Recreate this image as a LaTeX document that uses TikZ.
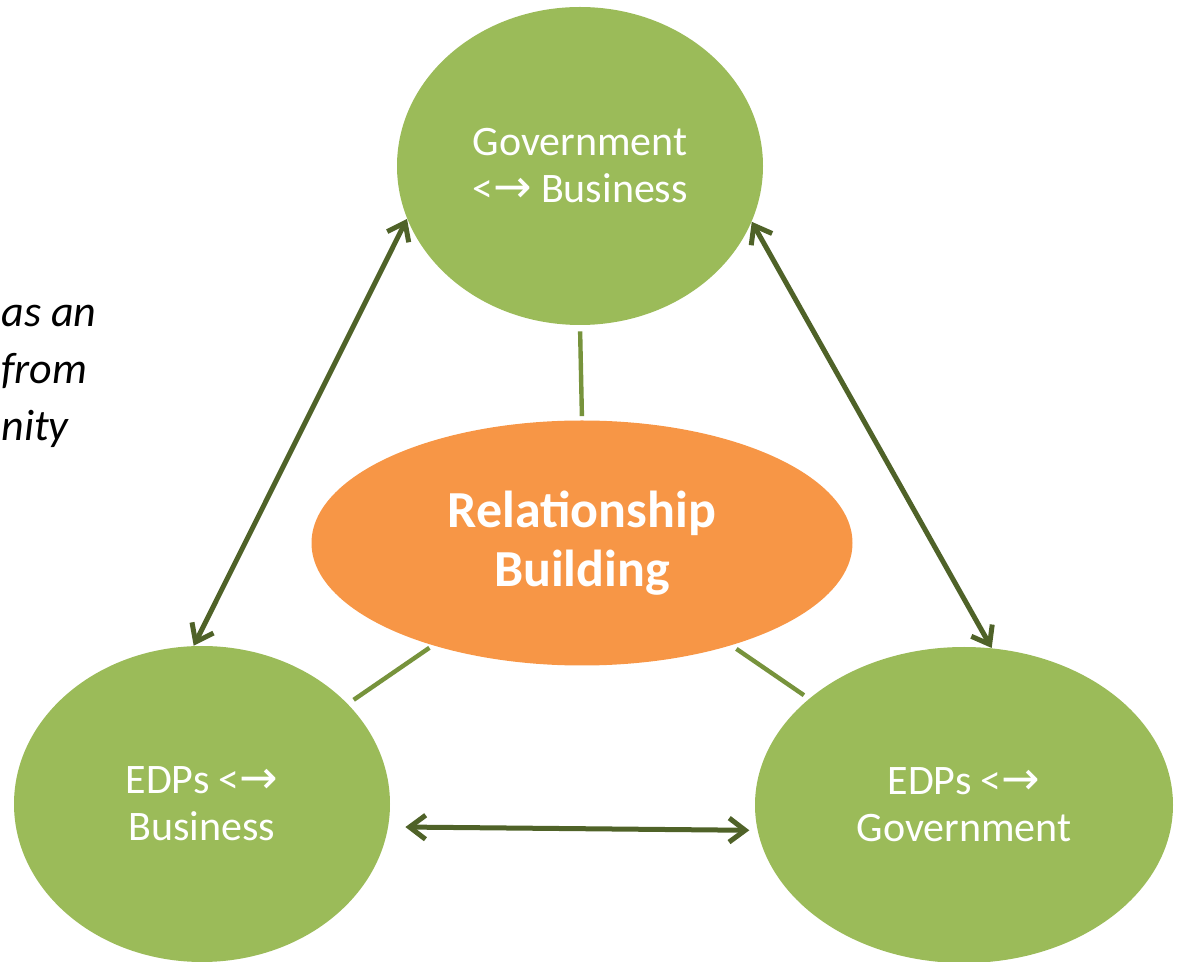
\documentclass[tikz,border=0pt]{standalone}
\usepackage{fontspec}
\setmainfont{Carlito}
\newfontfamily\arwfont{DejaVu Sans}
\usetikzlibrary{shapes.geometric,arrows.meta}
\definecolor{grx}{HTML}{9BBB59}
\definecolor{orx}{HTML}{F79646}
\definecolor{dgx}{HTML}{4F6228}
\definecolor{lgx}{HTML}{77933C}
\newcommand{\lrarw}{<{\arwfont\fontsize{23}{23.5}\selectfont →}}
\tikzset{
    bubble/.style={ellipse,fill=grx,text=white,inner sep=0pt,align=center,
        font=\fontsize{21}{23.5}\selectfont},
    core/.style={ellipse,fill=orx,text=white,inner sep=0pt,align=center,
        font=\bfseries\fontsize{26}{29.5}\selectfont},
    dbl/.style={dgx,line width=2.5pt,line cap=round,
        {Straight Barb[length=8pt,width=12pt]}-{Straight Barb[length=8pt,width=12pt]}},
    link/.style={lgx,line width=2.2pt},
    side/.style={anchor=base west,inner sep=0pt,font=\itshape\fontsize{22}{28.5}\selectfont}
}
\begin{document}
\begin{tikzpicture}[x=0.5pt,y=-0.5pt]
    \useasboundingbox (0,0) rectangle (1180,962);
    % text on the left
    \node [side] (txta) at (1,327) {as an};
    \node [side] (txtb) at (1,384) {from};
    \node [side] (txtc) at (1,441) {nity};
    % ellipses
    \node [bubble,minimum width=183pt,minimum height=159pt] (top) at (580,166)
        {Government\\\lrarw{} Business};
    \node [bubble,minimum width=188pt,minimum height=158pt] (bl) at (202,804)
        {EDPs \lrarw\\Business};
    \node [bubble,minimum width=209pt,minimum height=158pt] (br) at (964,805)
        {EDPs \lrarw\\Government};
    \node [core,minimum width=270.5pt,minimum height=122.5pt] (ctr) at (582,543)
        {Relationship\\Building};
    % thin links
    \draw [link,shorten <=2pt,shorten >=3pt] (ctr.north) -- (top.south);
    \draw [link,shorten <=2pt,shorten >=3.5pt] (ctr) -- (bl);
    \draw [link,shorten <=3pt,shorten >=3pt] (ctr) -- (br);
    % arrows
    \draw [dbl] (bl.93.7) -- (top.197.3);
    \draw [dbl] (br.80.2) -- (top.342.6);
    \draw [dbl,shorten <=8.5pt,shorten >=4pt] (bl.-7) -- (br.187);
\end{tikzpicture}
\end{document}
